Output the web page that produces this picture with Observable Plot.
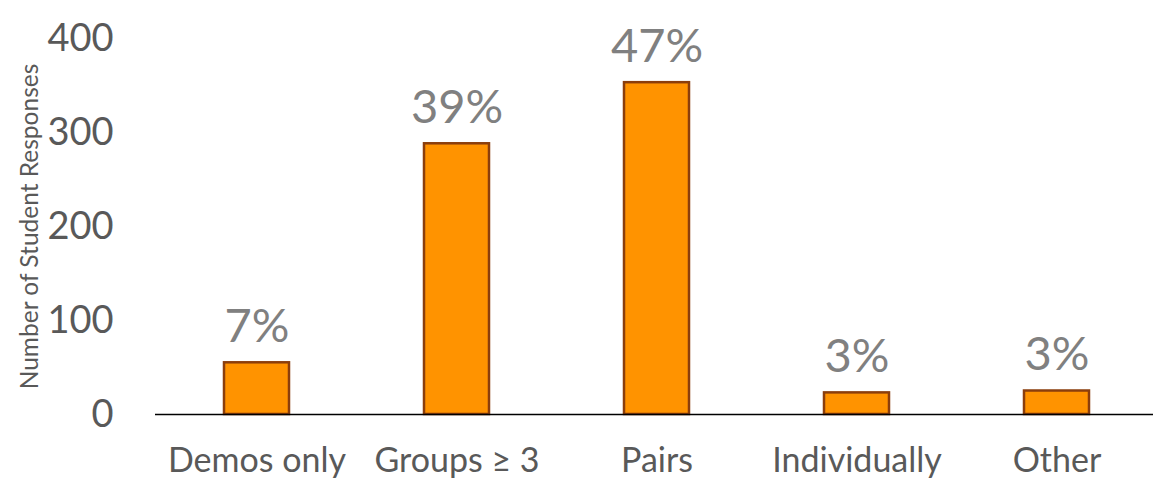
<!DOCTYPE html>
<html>
<head>
<meta charset="utf-8">
<script src="https://cdn.jsdelivr.net/npm/d3@7"></script>
<script src="https://cdn.jsdelivr.net/npm/@observablehq/plot@0.6"></script>
<style>
  html, body { margin: 0; padding: 0; background: #fff; }
  #chart { width: 1153px; height: 478px; overflow: hidden; }
</style>
</head>
<body>
<div id="chart"></div>
<script>
const categories = ["Demos only", "Groups \u2265 3", "Pairs", "Individually", "Other"];
const responses = [55, 288, 353, 23, 25];
const percentLabels = ["7%", "39%", "47%", "3%", "3%"];
const yTicks = [0, 100, 200, 300, 400];

const data = categories.map((c, i) => ({category: c, value: responses[i], label: percentLabels[i]}));

const font = "Lato, 'Open Sans', sans-serif";

const chart = Plot.plot({
  width: 1153,
  height: 478,
  marginLeft: 155,
  marginRight: -5,
  marginTop: 38,
  marginBottom: 64,
  style: {fontFamily: font, background: "#fff", overflow: "visible"},
  x: {domain: categories, paddingInner: 0.676, paddingOuter: 0.338, label: null},
  y: {domain: [0, 400], ticks: yTicks, label: null},
  marks: [
    Plot.barY(data, {x: "category", y: "value", fill: "#ff9300", stroke: "#8b3e0c", strokeWidth: 2.5}),
    Plot.ruleY([0], {stroke: "#000", strokeWidth: 1.5}),
    Plot.text(data, {x: "category", y: "value", text: "label", dy: -21, lineAnchor: "bottom", fontSize: 47, fill: "#808080", fontFamily: font}),
    Plot.axisY({ticks: yTicks, tickSize: 0, tickPadding: 42, fontSize: 38, fill: "#595959", label: null, fontFamily: font}),
    Plot.axisX({tickSize: 0, tickPadding: 33, fontSize: 34, fill: "#595959", label: null, fontFamily: font}),
    Plot.text(["Number of Student Responses"], {frameAnchor: "left", textAnchor: "middle", dx: -125, dy: 0, rotate: -90, fontSize: 24.5, fill: "#595959", fontFamily: font})
  ]
});
document.getElementById("chart").appendChild(chart);
</script>
</body>
</html>
